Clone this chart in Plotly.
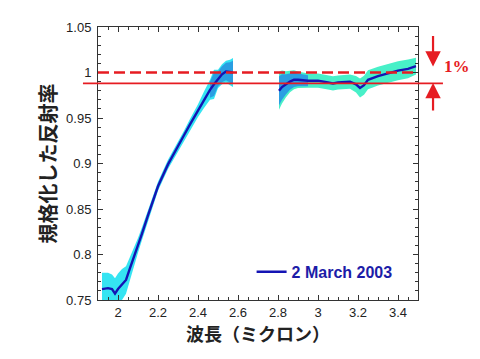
import plotly.graph_objects as go

# ---- data ----
wl1 = [1.92, 1.95, 1.97, 1.985, 2.0, 2.02, 2.04, 2.06, 2.08, 2.1, 2.12, 2.15, 2.18, 2.2,
       2.25, 2.3, 2.33, 2.36, 2.4, 2.43, 2.46, 2.48, 2.5, 2.52, 2.54, 2.56, 2.575]
refl1 = [0.762, 0.763, 0.762, 0.757, 0.762, 0.767, 0.772, 0.785, 0.797, 0.810, 0.823, 0.843,
         0.862, 0.875, 0.899, 0.918, 0.931, 0.943, 0.958, 0.970, 0.981, 0.987, 0.993, 0.998,
         1.001, 1.000, 1.000]
err1 = [0.018, 0.017, 0.016, 0.017, 0.017, 0.017, 0.015, 0.012, 0.010, 0.008, 0.007, 0.006,
        0.006, 0.005, 0.005, 0.005, 0.005, 0.006, 0.007, 0.009, 0.011, 0.016, 0.010, 0.011,
        0.012, 0.014, 0.016]

wl2 = [2.805, 2.82, 2.84, 2.86, 2.88, 2.9, 2.95, 3.0, 3.05, 3.075, 3.1, 3.16, 3.19, 3.21,
       3.23, 3.25, 3.3, 3.35, 3.4, 3.45, 3.49]
refl2 = [0.980, 0.984, 0.987, 0.990, 0.992, 0.992, 0.991, 0.991, 0.989, 0.988, 0.989, 0.990,
         0.987, 0.983, 0.986, 0.992, 0.996, 0.999, 1.002, 1.004, 1.007]
err2 = [0.016, 0.014, 0.011, 0.009, 0.008, 0.007, 0.006, 0.006, 0.006, 0.006, 0.006, 0.006,
        0.007, 0.008, 0.008, 0.008, 0.008, 0.008, 0.008, 0.008, 0.007]

series_name = "2 March 2003"
ref_level = 1.0
lower_level = 0.988

x_ticks = [2.0, 2.2, 2.4, 2.6, 2.8, 3.0, 3.2, 3.4]
x_ticktext = ["2", "2.2", "2.4", "2.6", "2.8", "3", "3.2", "3.4"]
y_ticks = [0.75, 0.8, 0.85, 0.9, 0.95, 1.0, 1.05]
y_ticktext = ["0.75", "0.8", "0.85", "0.9", "0.95", "1", "1.05"]

LINE = "#1414b4"
CYAN = "#35e4f2"
BLUE_BAND = "#2a9ee2"
TURQ = "#48f0c8"
RED = "#e61c22"

fig = go.Figure()


def band(xs, ys, es, color):
    lo = [y - e for y, e in zip(ys, es)]
    hi = [y + e for y, e in zip(ys, es)]
    fig.add_trace(go.Scatter(x=xs, y=lo, mode="lines", line=dict(width=0, color=color),
                             showlegend=False, hoverinfo="skip"))
    fig.add_trace(go.Scatter(x=xs, y=hi, mode="lines", line=dict(width=0, color=color),
                             fill="tonexty", fillcolor=color, showlegend=False, hoverinfo="skip"))


band(wl1, refl1, err1, CYAN)
k1 = [i for i, w in enumerate(wl1) if w >= 2.46]
band([wl1[i] for i in k1], [refl1[i] for i in k1], [err1[i] * 0.8 for i in k1], BLUE_BAND)
band(wl2, refl2, [e * 1.3 for e in err2], TURQ)
k2 = [i for i, w in enumerate(wl2) if w <= 2.95]
band([wl2[i] for i in k2], [refl2[i] for i in k2], [err2[i] for i in k2], BLUE_BAND)

fig.add_trace(go.Scatter(x=wl1 + [None] + wl2, y=refl1 + [None] + refl2, mode="lines",
                         line=dict(color=LINE, width=2.4), name="<b>" + series_name + "</b>",
                         connectgaps=False, showlegend=True))

fig.add_shape(type="line", xref="x", yref="y", x0=1.9, x1=3.5, y0=ref_level, y1=ref_level,
              line=dict(color=RED, width=2.6, dash="11px,5px"))
fig.add_shape(type="line", xref="paper", yref="y", x0=-0.047, x1=1.078,
              y0=lower_level, y1=lower_level, line=dict(color=RED, width=1.6))

# arrows
fig.add_annotation(x=1.047, xref="paper", y=1.0065, yref="y", ax=0, ay=-32, text="",
                   showarrow=True, arrowhead=2, arrowsize=1.4, arrowwidth=2.2, arrowcolor=RED,
                   standoff=0)
fig.add_annotation(x=1.047, xref="paper", y=0.9885, yref="y", ax=0, ay=29, text="",
                   showarrow=True, arrowhead=2, arrowsize=1.4, arrowwidth=2.2, arrowcolor=RED,
                   standoff=0)
fig.add_annotation(x=1.122, xref="paper", y=1.0066, yref="y", text="<b>1%</b>", showarrow=False,
                   font=dict(family="Liberation Serif", size=17, color=RED),
                   xanchor="center", yanchor="middle")

axis_common = dict(showline=True, linecolor="#333", linewidth=1, mirror="ticks",
                   ticks="inside", tickcolor="#333", ticklen=5, tickwidth=1,
                   showgrid=False, zeroline=False,
                   tickfont=dict(family="Arial, Liberation Sans", size=13, color="#222"))

fig.update_layout(
    width=480, height=359,
    margin=dict(l=98, r=62, t=27, b=59),
    paper_bgcolor="white", plot_bgcolor="white",
    xaxis=dict(range=[1.9, 3.5], tickvals=x_ticks, ticktext=x_ticktext,
               minor=dict(dtick=0.05, tick0=1.9, ticks="inside", ticklen=3, tickcolor="#333"),
               title=dict(text="<b>波長（ミクロン）</b>", standoff=9,
                          font=dict(family="Noto Sans CJK JP", size=18, color="#222")),
               **axis_common),
    yaxis=dict(range=[0.75, 1.05], tickvals=y_ticks, ticktext=y_ticktext,
               minor=dict(dtick=0.01, tick0=0.75, ticks="inside", ticklen=3, tickcolor="#333"),
               ticklabelstandoff=3,
               title=dict(text="<b>規格化した反射率</b>", standoff=4,
                          font=dict(family="Noto Sans CJK JP", size=20, color="#222")),
               **axis_common),
    legend=dict(x=0.48, y=0.103, xanchor="left", yanchor="middle", bgcolor="rgba(0,0,0,0)",
                font=dict(family="Arial, Liberation Sans", size=16, color="#1c1ca8"),
                itemwidth=30),
    showlegend=True,
)

fig.write_html("out.html", config={"displayModeBar": False},
               post_script="document.body.style.margin='0';")
